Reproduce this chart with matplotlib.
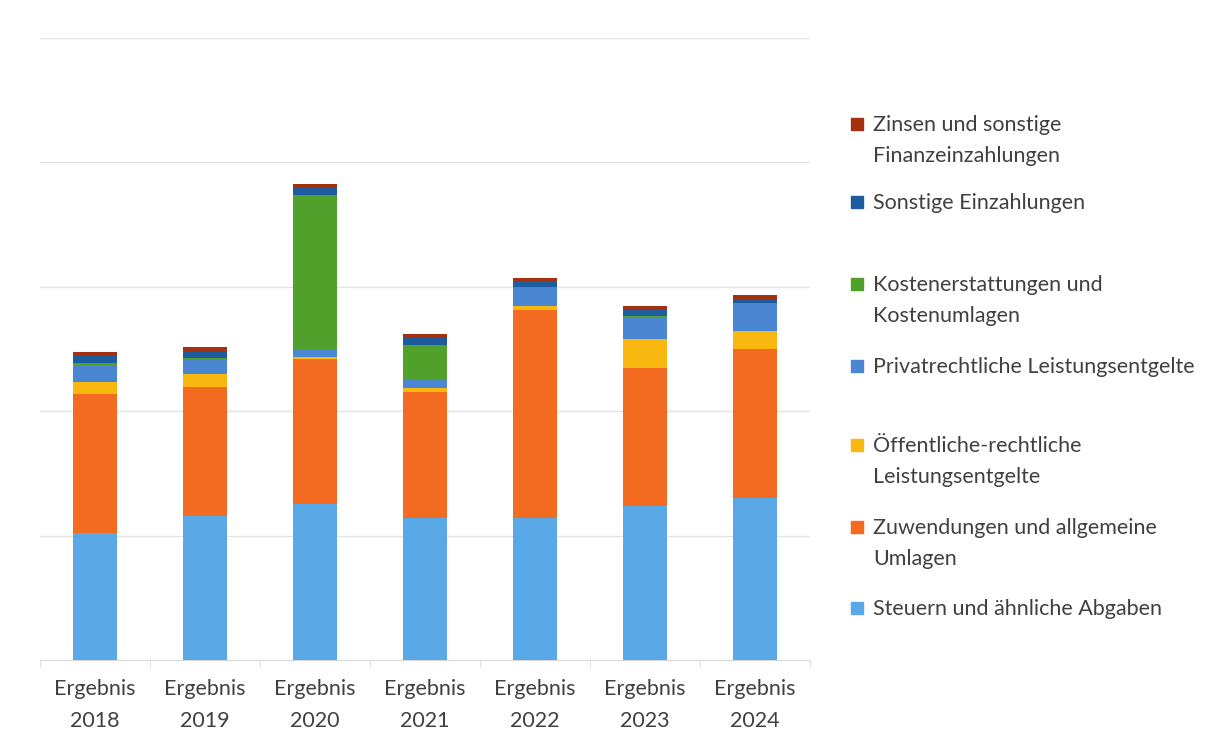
import matplotlib.pyplot as plt
from matplotlib.patches import Rectangle
import numpy as np

plt.rcParams['font.family'] = ['Lato', 'DejaVu Sans']

categories = ["Ergebnis\n2018", "Ergebnis\n2019", "Ergebnis\n2020", "Ergebnis\n2021",
              "Ergebnis\n2022", "Ergebnis\n2023", "Ergebnis\n2024"]

# Stacked components, bottom to top
steuern = [1.02, 1.158, 1.254, 1.141, 1.141, 1.238, 1.302]
zuwendungen = [1.12, 1.035, 1.166, 1.013, 1.672, 1.112, 1.198]
oeffentlich = [0.094, 0.105, 0.018, 0.035, 0.032, 0.23, 0.145]
privat = [0.14, 0.115, 0.062, 0.07, 0.142, 0.179, 0.215]
kosten = [0.016, 0.016, 1.238, 0.273, 0.008, 0.008, 0.008]
sonstige = [0.05, 0.048, 0.054, 0.059, 0.048, 0.048, 0.035]
zinsen = [0.032, 0.038, 0.035, 0.03, 0.024, 0.027, 0.03]

series = [steuern, zuwendungen, oeffentlich, privat, kosten, sonstige, zinsen]
colors = ["#5ba8e6", "#f26b21", "#f8b80f", "#4a86d2", "#52a02c", "#1d5d9f", "#a4300f"]

legend_labels = [
    "Zinsen und sonstige\nFinanzeinzahlungen",
    "Sonstige Einzahlungen",
    "Kostenerstattungen und\nKostenumlagen",
    "Privatrechtliche Leistungsentgelte",
    "Öffentliche-rechtliche\nLeistungsentgelte",
    "Zuwendungen und allgemeine\nUmlagen",
    "Steuern und ähnliche Abgaben",
]
legend_colors = ["#a4300f", "#1d5d9f", "#52a02c", "#4a86d2", "#f8b80f", "#f26b21", "#5ba8e6"]

W, H = 1227, 745
fig = plt.figure(figsize=(W / 100, H / 100), dpi=100)
ax = fig.add_axes([40 / W, 1 - 660 / H, 770 / W, 622 / H])

x = np.arange(len(categories))
bottom = np.zeros(len(categories))
for vals, col in zip(series, colors):
    ax.bar(x, vals, bottom=bottom, width=0.4, color=col, edgecolor='none', zorder=3)
    bottom += np.array(vals)

ax.set_xlim(-0.5, len(categories) - 0.5)
ax.set_ylim(0, 5)
ax.set_yticks([1, 2, 3, 4, 5])
ax.set_yticklabels([])
ax.tick_params(axis='y', length=0)
ax.grid(axis='y', color='#e4e4e4', linewidth=1, zorder=0)
for s in ['top', 'right', 'left']:
    ax.spines[s].set_visible(False)
ax.spines['bottom'].set_color('#d9d9d9')

ax.set_xticks(x)
ax.set_xticklabels(categories, fontsize=15.5, color='#404040', linespacing=1.7)
ax.tick_params(axis='x', length=0, pad=14)
ax.set_xticks(np.arange(-0.5, len(categories)), minor=True)
ax.tick_params(axis='x', which='minor', length=5, color='#d9d9d9')

# Legend drawn entry by entry on the right
legend_y = [124, 202, 284, 366, 445, 527, 608]
for lab, col, yy in zip(legend_labels, legend_colors, legend_y):
    fig.patches.append(Rectangle((851 / W, 1 - (yy + 6) / H), 12 / W, 12 / H,
                                 transform=fig.transFigure, color=col))
    fig.text(873 / W, 1 - (yy - 9) / H, lab, fontsize=15.5, color='#404040',
             va='top', ha='left', linespacing=1.7)

fig.savefig("out.png", dpi=100, facecolor='white')
